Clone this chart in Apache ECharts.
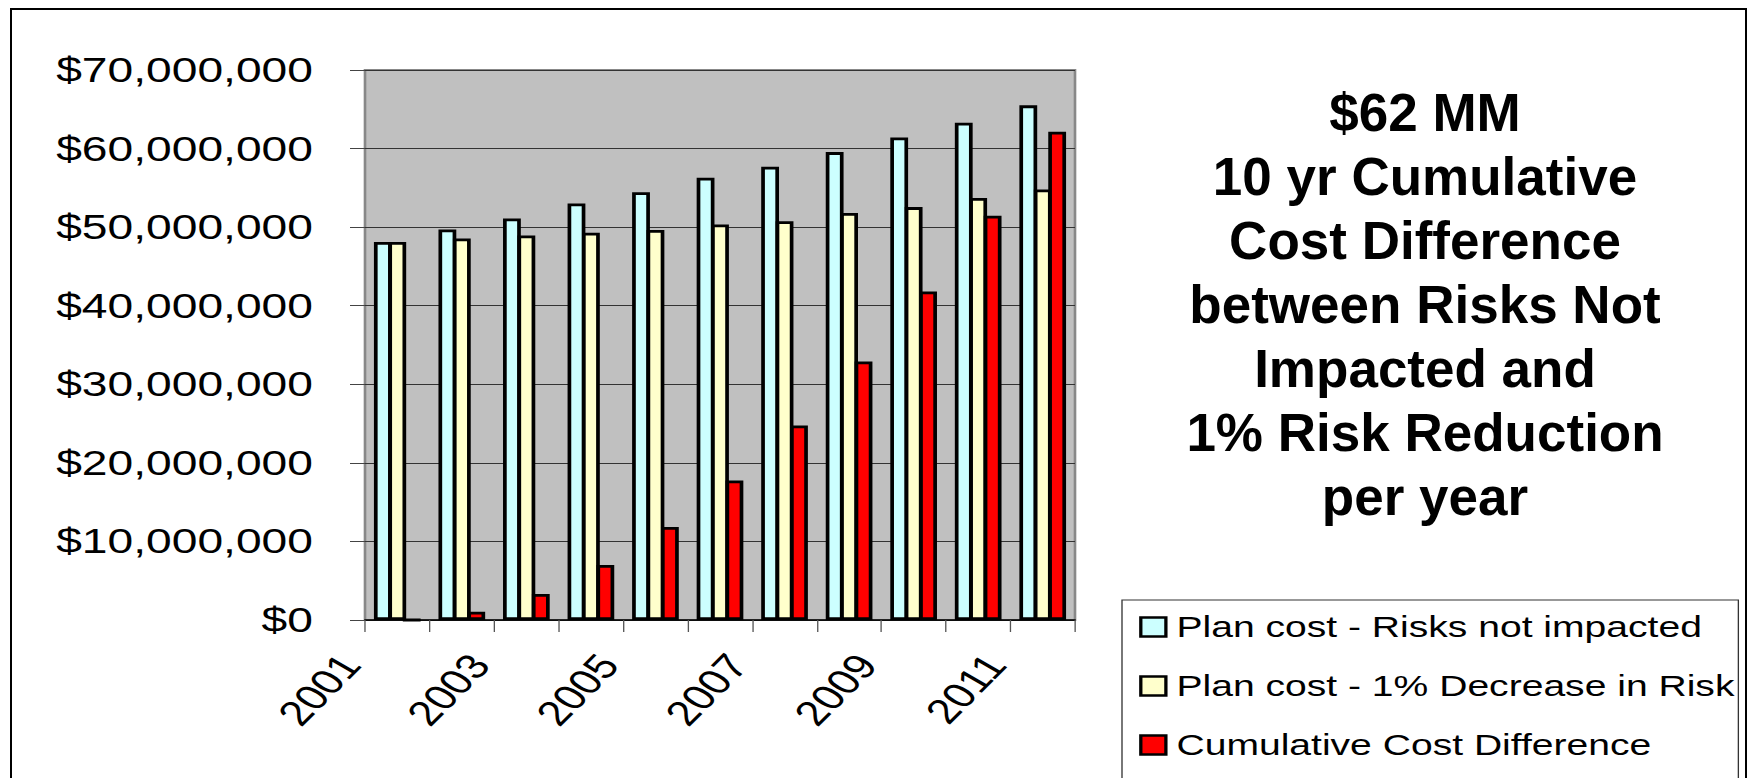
<!DOCTYPE html>
<html><head><meta charset="utf-8">
<script src="https://cdn.jsdelivr.net/npm/echarts@6/dist/echarts.min.js"></script>
<style>
html,body{margin:0;padding:0;background:#fff;overflow:hidden;width:1751px;height:778px;}
#frame{position:absolute;left:10px;top:8px;width:1737px;height:900px;border:2px solid #000;box-sizing:border-box;}
#chart{position:absolute;left:0;top:0;width:1327px;height:900px;transform:scaleX(1.32);transform-origin:0 0;}
</style></head><body>
<div id="frame"></div>
<div id="chart"></div>
<script>
// ---- data ----
const years = ['2001','2002','2003','2004','2005','2006','2007','2008','2009','2010','2011'];
const planNotImpacted = [48100000, 49700000, 51100000, 53000000, 54450000, 56300000, 57700000, 59550000, 61400000, 63300000, 65500000];
const planReduced     = [48100000, 48550000, 48950000, 49300000, 49650000, 50350000, 50750000, 51800000, 52550000, 53700000, 54800000];
const cumulativeDiff  = [0, 1050000, 3300000, 7000000, 11850000, 17750000, 24750000, 32900000, 41800000, 51450000, 62150000];
const seriesNames = ['Plan cost - Risks not impacted', 'Plan cost - 1% Decrease in Risk', 'Cumulative Cost Difference'];
const seriesColors = ['#CCFFFF', '#FFFFCC', '#FF0000'];
const titleLines = ['$62 MM', '10 yr Cumulative', 'Cost Difference', 'between Risks Not', 'Impacted and', '1% Risk Reduction', 'per year'];
const yMin = 0, yMax = 70000000, yStep = 10000000;

// ---- layout ----
const S = 1.32;              // horizontal stretch of the whole picture
const X = v => v / S;        // final-pixel x -> container x
const FONT = '"Liberation Sans", Arial, sans-serif';

const chart = echarts.init(document.getElementById('chart'), null, {renderer: 'svg', width: 1327, height: 900});
const valuesList = [planNotImpacted, planReduced, cumulativeDiff];

chart.setOption({
  animation: false,
  backgroundColor: 'transparent',
  grid: {
    left: X(365), top: 70, width: X(1075 - 365), height: 550,
    show: true, backgroundColor: '#C0C0C0', borderColor: '#888888', borderWidth: 2,
    containLabel: false, outerBoundsMode: 'none'
  },
  legend: {
    orient: 'vertical', left: X(1122), top: 600,
    icon: 'rect', itemWidth: 19, itemHeight: 19, itemGap: 29,
    padding: [12, 3, 40, 13],
    borderColor: '#333333', borderWidth: 1, backgroundColor: '#ffffff',
    selectedMode: false,
    itemStyle: {borderColor: '#000', borderWidth: 2.5},
    textStyle: {fontSize: 29.6, fontFamily: FONT, color: '#000', lineHeight: 30, padding: [0, 0, 0, 3]},
    data: seriesNames
  },
  xAxis: {
    type: 'category', data: years, boundaryGap: true,
    axisLine: {show: true, lineStyle: {color: '#000', width: 1.5}},
    axisTick: {show: true, interval: 0, length: 12, lineStyle: {color: '#555', width: 1}},
    axisLabel: {interval: 1, rotate: 52.85, margin: -8, padding: [0, 58.7, 0, 0], fontSize: 35, fontFamily: FONT, color: '#000'},
    splitLine: {show: false}
  },
  yAxis: {
    type: 'value', min: yMin, max: yMax, interval: yStep,
    axisLine: {show: false},
    axisTick: {show: true, length: X(15), lineStyle: {color: '#444', width: 1}},
    axisLabel: {margin: X(52), fontSize: 35, fontFamily: FONT, color: '#000',
      formatter: v => '$' + Number(v).toLocaleString('en-US')},
    splitLine: {show: true, lineStyle: {color: '#333', width: 1}}
  },
  series: seriesNames.map((name, i) => ({
    name, type: 'bar', data: valuesList[i],
    barWidth: 13.5, barGap: '-19%',
    itemStyle: {color: seriesColors[i], borderColor: '#000', borderWidth: 2.8}
  })),
  graphic: [{
    type: 'text', x: X(1425), y: 304.5, scaleX: 1 / S,
    style: {
      text: titleLines.join('\n'), font: 'bold 53px ' + FONT, fill: '#000',
      textAlign: 'center', textVerticalAlign: 'middle', align: 'center', verticalAlign: 'middle', lineHeight: 64
    }
  }]
});
</script>
</body></html>
